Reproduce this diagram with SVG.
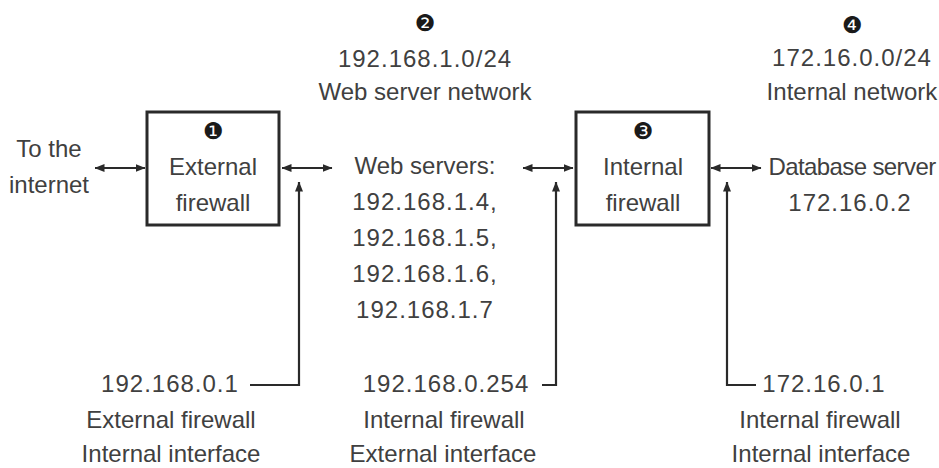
<svg xmlns="http://www.w3.org/2000/svg" width="939" height="468" viewBox="0 0 939 468">
<style>
  text { font-family: "Liberation Sans", Arial, sans-serif; font-size: 24px; fill: #404040; text-anchor: middle; }
  .num { letter-spacing: 1px; }
  .badge { font-family: "DejaVu Sans", sans-serif; font-size: 23px; fill: #1a1a1a; }
  .box { fill: #ffffff; stroke: #2a2a2a; stroke-width: 3; }
  .wire { fill: none; stroke: #2a2a2a; stroke-width: 2.2; }
</style>
<defs>
  <marker id="ah" viewBox="0 0 10 8" refX="9.5" refY="4" markerWidth="10" markerHeight="8" markerUnits="userSpaceOnUse" orient="auto-start-reverse">
    <path d="M0,0 L10,4 L0,8 Z" fill="#2a2a2a"/>
  </marker>
</defs>
<rect width="939" height="468" fill="#ffffff"/>

<g id="internet">
  <text x="49" y="157">To the</text>
  <text x="49" y="193">internet</text>
</g>

<g id="external-firewall">
  <rect class="box" x="147" y="112" width="132" height="113"/>
  <text class="badge" x="213" y="139">❶</text>
  <text x="213" y="175">External</text>
  <text x="213" y="211">firewall</text>
</g>

<g id="web-network">
  <text class="badge" x="425" y="31">❷</text>
  <text class="num" x="425" y="67">192.168.1.0/24</text>
  <text x="425" y="100">Web server network</text>
</g>

<g id="web-servers">
  <text x="425" y="174">Web servers:</text>
  <text class="num" x="425" y="210">192.168.1.4,</text>
  <text class="num" x="425" y="246">192.168.1.5,</text>
  <text class="num" x="425" y="282">192.168.1.6,</text>
  <text class="num" x="425" y="318">192.168.1.7</text>
</g>

<g id="internal-firewall">
  <rect class="box" x="576" y="112" width="133" height="113"/>
  <text class="badge" x="643" y="139">❸</text>
  <text x="643" y="175">Internal</text>
  <text x="643" y="211">firewall</text>
</g>

<g id="internal-network">
  <text class="badge" x="852" y="33">❹</text>
  <text class="num" x="852" y="66">172.16.0.0/24</text>
  <text x="852" y="100">Internal network</text>
</g>

<g id="database-server">
  <text x="852" y="175" style="letter-spacing:-0.6px">Database server</text>
  <text class="num" x="850" y="211">172.16.0.2</text>
</g>

<g id="ext-fw-int-iface">
  <text class="num" x="170" y="392">192.168.0.1</text>
  <text x="171" y="428">External firewall</text>
  <text x="171" y="462">Internal interface</text>
</g>

<g id="int-fw-ext-iface">
  <text class="num" x="446" y="392">192.168.0.254</text>
  <text x="444" y="428">Internal firewall</text>
  <text x="443" y="462">External interface</text>
</g>

<g id="int-fw-int-iface">
  <text class="num" x="824" y="392">172.16.0.1</text>
  <text x="820" y="428">Internal firewall</text>
  <text x="821" y="462">Internal interface</text>
</g>

<g id="connectors">
  <line class="wire" x1="95" y1="168" x2="145" y2="168" marker-start="url(#ah)" marker-end="url(#ah)"/>
  <line class="wire" x1="282" y1="168" x2="332" y2="168" marker-start="url(#ah)" marker-end="url(#ah)"/>
  <line class="wire" x1="523" y1="168" x2="573" y2="168" marker-start="url(#ah)" marker-end="url(#ah)"/>
  <line class="wire" x1="711" y1="168" x2="761" y2="168" marker-start="url(#ah)" marker-end="url(#ah)"/>
  <polyline class="wire" points="250,385 299,385 299,182" marker-end="url(#ah)"/>
  <polyline class="wire" points="542,385 556,385 556,182" marker-end="url(#ah)"/>
  <polyline class="wire" points="756,385 727,385 727,182" marker-end="url(#ah)"/>
</g>
</svg>
